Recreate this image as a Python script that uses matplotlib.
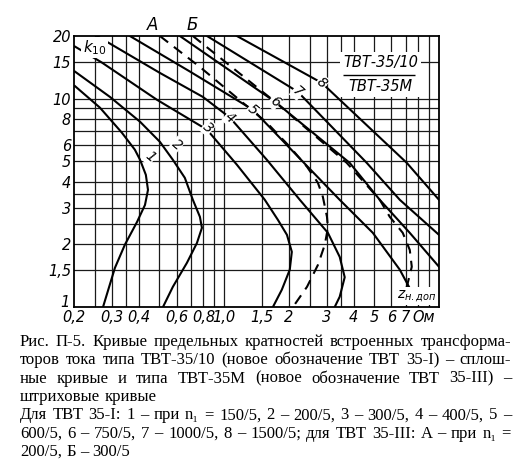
import matplotlib
matplotlib.use('Agg')
import matplotlib.pyplot as plt
from matplotlib.ticker import NullFormatter
from matplotlib.transforms import ScaledTranslation

# curves: z (Ohm) vs k10
# TVT-35/10, solid, curves 1..8
z1 = [0.202, 0.264, 0.334, 0.384, 0.406, 0.432, 0.442, 0.428, 0.393, 0.345, 0.310, 0.273]
k1 = [11.5, 9.06, 6.87, 5.69, 5.09, 4.31, 3.65, 3.09, 2.56, 1.99, 1.54, 1.0]
z2 = [0.202, 0.294, 0.406, 0.502, 0.577, 0.656, 0.715, 0.771, 0.788, 0.747, 0.671, 0.577, 0.519]
k2 = [13.5, 10.2, 7.75, 6.21, 5.09, 4.17, 3.27, 2.71, 2.40, 2.03, 1.63, 1.25, 1.0]
z3 = [0.202, 0.270, 0.486, 0.832, 1.146, 1.546, 1.779, 1.96, 2.065, 2.02, 1.855, 1.686]
k3 = [17.8, 14.9, 9.89, 7.10, 4.82, 3.27, 2.62, 2.22, 1.84, 1.51, 1.21, 1.0]
z4 = [0.256, 0.502, 0.796, 1.064, 1.58, 2.25, 3.04, 3.45, 3.64, 3.45, 3.27]
k4 = [20, 13.3, 10.2, 8.11, 5.09, 3.27, 2.27, 1.74, 1.39, 1.12, 1.0]
z5 = [0.364, 0.693, 1.361, 2.45, 3.45, 4.92, 6.57, 7.31]
k5 = [20, 13.5, 8.85, 4.71, 3.27, 2.27, 1.51, 1.23]
z6 = [0.622, 1.722, 3.84, 5.30, 7.31, 10.0]
k6 = [20, 9.68, 4.92, 3.27, 2.27, 1.56]
z7 = [0.832, 2.2, 4.61, 6.57, 10.0]
k7 = [20, 10.8, 4.92, 3.27, 2.22]
z8 = [1.146, 2.85, 7.08, 10.0]
k8 = [20, 11.9, 4.92, 3.27]

# TVT-35M, dashed, curves A and B
zA = [0.502, 0.771, 1.58, 2.02, 2.43, 2.73, 2.88, 3.01, 3.04, 2.94, 2.73, 2.43, 2.09]
kA = [20, 14.2, 7.67, 5.88, 4.71, 3.95, 3.38, 2.71, 2.40, 1.99, 1.59, 1.25, 1.0]
zB = [0.715, 1.722, 3.72, 5.30, 5.90, 6.78, 7.31, 7.47, 7.08, 6.43]
kB = [20, 9.68, 4.92, 3.27, 2.71, 2.27, 1.88, 1.56, 1.25, 1.0]

# curve numbers and where they sit
num_text = ['1', '2', '3', '4', '5', '6', '7', '8']
num_z = [0.451, 0.602, 0.84, 1.064, 1.361, 1.722, 2.2, 2.85]
num_k = [5.26, 6.01, 7.26, 8.11, 8.85, 9.68, 10.8, 11.9]

# axes ticks / grid
x_lab_pos = [0.2, 0.3, 0.4, 0.6, 0.8, 1.0, 1.5, 2, 3, 4, 5, 6, 7, 8.5]
x_lab = ['0,2', '0,3', '0,4', '0,6', '0,8', '1,0', '1,5', '2', '3', '4', '5', '6', '7', 'Ом']
x_grid = [0.25, 0.3, 0.35, 0.4, 0.5, 0.6, 0.7, 0.8, 0.9, 1.0, 1.5, 2, 2.5, 3, 3.5, 4, 5, 6, 7, 8, 9]
y_lab_pos = [1, 1.5, 2, 3, 4, 5, 6, 8, 10, 15, 20]
y_lab = ['1', '1,5', '2', '3', '4', '5', '6', '8', '10', '15', '20']
y_grid = [1.5, 2, 2.5, 3, 3.5, 4, 5, 6, 7, 8, 9, 10, 15]

caption = [
    ('Рис. П-5. Кривые предельных кратностей встроенных трансформа-', True),
    ('торов тока типа ТВТ-35/10 (новое обозначение ТВТ 35-I) – сплош-', True),
    ('ные кривые и типа ТВТ-35М (новое обозначение ТВТ 35-III) –', True),
    ('штриховые кривые', False),
    ('Для ТВТ 35-I: 1 – при n₁ = 150/5, 2 – 200/5, 3 – 300/5, 4 – 400/5, 5 –', True),
    ('600/5, 6 – 750/5, 7 – 1000/5, 8 – 1500/5; для ТВТ 35-III: А – при n₁ =', True),
    ('200/5, Б – 300/5', False),
]

W, H = 517, 469
SANS = ['Liberation Sans Narrow', 'DejaVu Sans']
SERIF = ['Liberation Serif', 'DejaVu Serif']

fig = plt.figure(figsize=(W / 100, H / 100), dpi=100)
ax = fig.add_axes([74 / W, 1 - 307 / H, 365 / W, 271 / H])
ax.set_xscale('log')
ax.set_yscale('log')

for z, k in [(z1, k1), (z2, k2), (z3, k3), (z4, k4), (z5, k5), (z6, k6), (z7, k7), (z8, k8)]:
    ax.plot(z, k, color='black', lw=1.5)
for z, k in [(zA, kA), (zB, kB)]:
    ax.plot(z, k, color='black', lw=1.5, dashes=(5, 3.5))

ax.set_xlim(0.2, 10)
ax.set_ylim(1, 20)

ax.xaxis.remove_overlapping_locs = False
ax.yaxis.remove_overlapping_locs = False
ax.set_xticks(x_lab_pos, labels=x_lab, fontstyle='italic', fontsize=10.5, family=SANS)
ax.set_xticks(x_grid, minor=True)
ax.xaxis.set_minor_formatter(NullFormatter())
ax.set_yticks(y_lab_pos, labels=y_lab, fontstyle='italic', fontsize=10.5, family=SANS)
ax.set_yticks(y_grid, minor=True)
ax.yaxis.set_minor_formatter(NullFormatter())
ax.grid(which='minor', color='#1a1a1a', lw=0.9)
ax.grid(which='major', visible=False)
ax.tick_params(which='both', length=0)
ax.tick_params(axis='x', pad=2)
ax.tick_params(axis='y', pad=2)
for s in ax.spines.values():
    s.set_linewidth(1.3)

# lift the corner "1" a little off the "0,2"
lab1 = ax.get_yticklabels()[0]
lab1.set_transform(lab1.get_transform() + ScaledTranslation(-1 / 72, 4 / 72, fig.dpi_scale_trans))

white = dict(boxstyle='square,pad=0.05', fc='white', ec='none')
for t, z, k in zip(num_text, num_z, num_k):
    ax.text(z, k, t, ha='center', va='center', fontsize=10, fontstyle='italic',
            family=SANS, rotation=-40, bbox=white, zorder=4)

ax.text(0.25, 17.6, r'$k_{10}$', ha='center', va='center', fontsize=11,
        bbox=dict(boxstyle='square,pad=0.1', fc='white', ec='none'), zorder=4)
ax.text(0.466, 22.7, 'А', ha='center', va='center', fontsize=12, fontstyle='italic',
        family=SANS, clip_on=False)
ax.text(0.708, 22.7, 'Б', ha='center', va='center', fontsize=12, fontstyle='italic',
        family=SANS, clip_on=False)

# type label box
ax.text(5.36, 13.1, 'ТВТ-35/10\n\nТВТ-35М', ha='center', va='center', fontsize=10.5,
        fontstyle='italic', family=SANS, linespacing=0.75,
        bbox=dict(boxstyle='square,pad=0.2', fc='white', ec='none'), zorder=4)
ax.hlines(13.0, 3.56, 7.73, color='black', lw=1.0, zorder=5)

ax.text(6.35, 1.13, r'$z_{н.доп}$', ha='left', va='center', fontsize=10,
        bbox=dict(boxstyle='square,pad=0.1', fc='white', ec='none'), zorder=4)

# justified caption under the chart
renderer = fig.canvas.get_renderer()
X0, X1 = 20, 511
for i, (line, justify) in enumerate(caption):
    py = 346 + 18.3 * i
    words = line.split(' ')
    arts = [fig.text(0, 1 - py / H, w, fontsize=12, family=SERIF, va='baseline') for w in words]
    widths = [a.get_window_extent(renderer).width for a in arts]
    if justify:
        gap = (X1 - X0 - sum(widths)) / (len(words) - 1)
    else:
        gap = 12 * 0.25 * 100 / 72
    x = X0
    for a, w in zip(arts, widths):
        a.set_x(x / W)
        x += w + gap

fig.savefig('out.png', dpi=100)
